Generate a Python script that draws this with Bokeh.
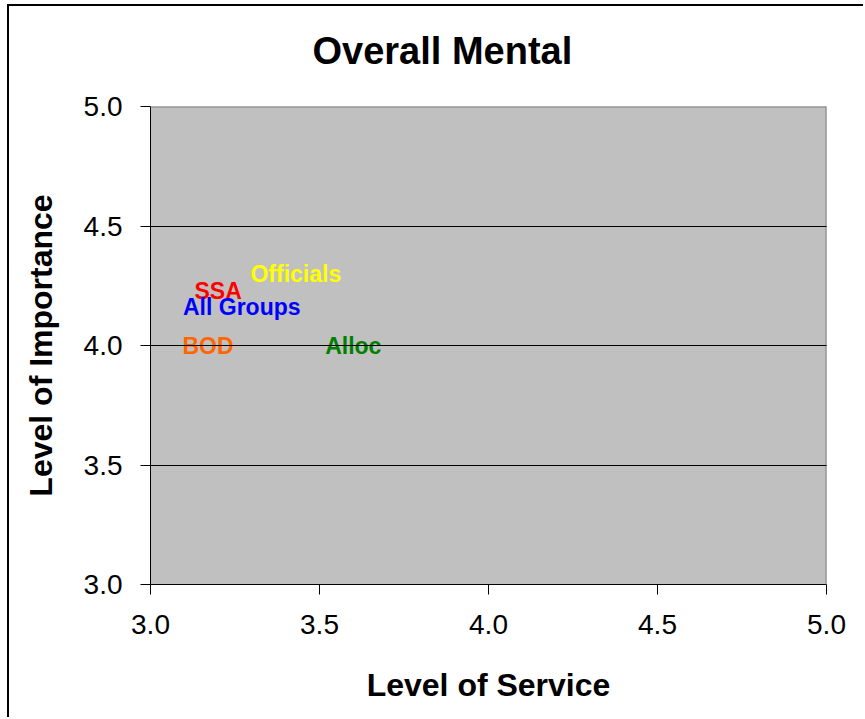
from bokeh.plotting import figure
from bokeh.models import FixedTicker, NumeralTickFormatter, Span, ColumnDataSource, Title
from bokeh.core.properties import value
from bokeh.embed import file_html
from bokeh.resources import INLINE

groups = ["Officials", "SSA", "All Groups", "BOD", "Alloc"]
service = [3.43, 3.20, 3.27, 3.17, 3.60]
importance = [4.30, 4.23, 4.16, 4.00, 4.00]
colors = ["#FFFF00", "#FF0000", "#0000FF", "#FF6600", "#008000"]
ticks = [3.0, 3.5, 4.0, 4.5, 5.0]
title_text = "Overall Mental"

FONT = "Liberation Sans"

src = ColumnDataSource(dict(x=service, y=importance, t=groups, c=colors))

p = figure(width=856, height=713, x_range=(3.0, 5.0), y_range=(3.0, 5.0),
           output_backend="svg", toolbar_location=None,
           min_border_left=141, min_border_right=39,
           min_border_top=100, min_border_bottom=135)
p.styles = {"margin-left": "7px", "margin-top": "4px",
            "border-left": "2px solid black", "border-top": "2px solid black"}

p.background_fill_color = "#C0C0C0"
p.border_fill_color = "white"
p.outline_line_color = None

# spacer panel between frame and title, then the title itself
p.add_layout(Title(text=" ", text_font=FONT, text_font_size="30px", standoff=0), "above")
p.add_layout(Title(text=title_text, text_font=FONT, text_font_size="38px",
                   text_font_style="bold", text_color="black",
                   align="left", offset=162, standoff=0), "above")

for ax in (p.xaxis[0], p.yaxis[0]):
    ax.ticker = FixedTicker(ticks=ticks)
    ax.formatter = NumeralTickFormatter(format="0.0")
    ax.major_label_text_font = FONT
    ax.major_label_text_font_size = "28px"
    ax.major_label_text_color = "black"
    ax.axis_label_text_font = FONT
    ax.axis_label_text_font_size = "32px"
    ax.axis_label_text_font_style = "bold"
    ax.axis_label_text_color = "black"
    ax.axis_line_color = "black"
    ax.axis_line_width = 1
    ax.major_tick_line_color = "black"
    ax.major_tick_in = 0
    ax.major_tick_out = 10
    ax.minor_tick_line_color = None

p.xaxis.axis_label = "Level of Service"
p.yaxis.axis_label = "Level of Importance"
p.xaxis.major_label_standoff = 20
p.yaxis.major_label_standoff = 18
p.xaxis.axis_label_standoff = 30
p.yaxis.axis_label_standoff = 22

p.xgrid.grid_line_color = None
p.ygrid.ticker = FixedTicker(ticks=ticks[1:-1])
p.ygrid.grid_line_color = "black"
p.ygrid.grid_line_width = 1
p.ygrid.level = "overlay"

p.add_layout(Span(location=5.0, dimension="width", line_color="#808080", line_width=2))
p.add_layout(Span(location=5.0, dimension="height", line_color="#808080", line_width=2))

p.text(x="x", y="y", text="t", source=src, text_color="c",
       text_font=value(FONT), text_font_size="23px", text_font_style="bold",
       text_align="center", text_baseline="middle")

open("out.html", "w").write(file_html(p, INLINE))
